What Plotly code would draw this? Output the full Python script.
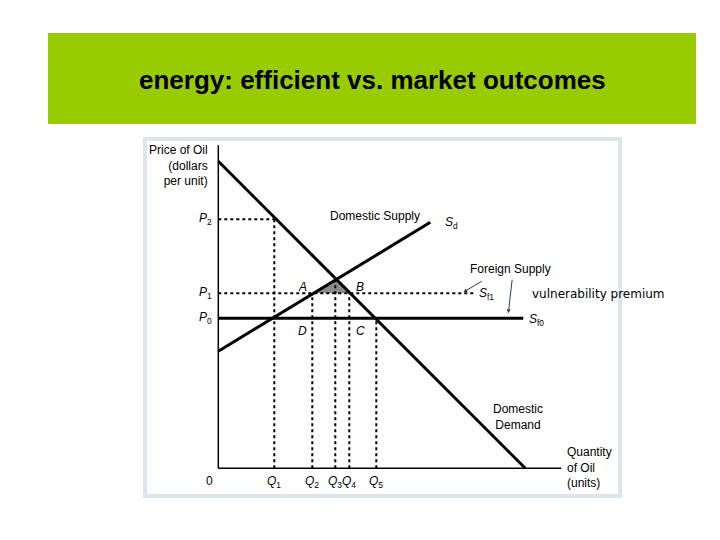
import plotly.graph_objects as go

# diagram units: origin at axes corner
quantities = {'Q1': 56, 'Q2': 94, 'Q3': 117, 'Q4': 131, 'Q5': 158}
prices = {'P0': 150, 'P1': 175, 'P2': 249}
demand_x, demand_y = [0, 307], [307, 0]
supply_x, supply_y = [0, 212], [117, 246]
eq_point = (117, 188)
axis_x_max, axis_y_max = 343, 323
sf0_end, sf1_end = 305, 255

SH = 8  # page body margin
OX, OY = 218.3 - SH, 468.3 - SH  # pixel of origin inside the figure
fig = go.Figure()
blk = dict(color='black', width=3)
dot = dict(color='black', width=2, dash='dot')

def line(xs, ys, style):
    fig.add_trace(go.Scatter(x=xs, y=ys, mode='lines', line=style, hoverinfo='skip'))

# shaded triangle
fig.add_trace(go.Scatter(x=[quantities['Q2'], quantities['Q4'], eq_point[0], quantities['Q2']],
                         y=[prices['P1'], prices['P1'], eq_point[1], prices['P1']],
                         fill='toself', fillcolor='#8c8c8c', mode='lines', line=dict(width=0)))
# dotted guides
line([0, quantities['Q1']], [prices['P2']] * 2, dot)
line([quantities['Q1']] * 2, [0, prices['P2']], dot)
line([0, sf1_end], [prices['P1']] * 2, dot)
line([quantities['Q2']] * 2, [0, prices['P1']], dot)
line([quantities['Q3']] * 2, [0, eq_point[1]], dot)
line([quantities['Q4']] * 2, [0, prices['P1']], dot)
line([quantities['Q5']] * 2, [0, prices['P0']], dot)
# axes and curves
line([0, 0], [0, axis_y_max], dict(color='black', width=1.5))
line([0, axis_x_max], [0, 0], dict(color='black', width=1.5))
line(demand_x, demand_y, blk)
line(supply_x, supply_y, blk)
line([0, sf0_end], [prices['P0']] * 2, blk)

font = dict(family='Liberation Sans, Arial', size=12, color='black')
def txt(x, y, s, **kw):
    fig.add_annotation(x=x, y=y, text=s, showarrow=False, font=font, **kw)

for k, v in prices.items():
    txt(-13, v, '<i>P</i><sub>%s</sub>' % k[1])
for k, v in quantities.items():
    txt(v, -14, '<i>Q</i><sub>%s</sub>' % k[1])
txt(-9, -13, '0')
txt(-8, 303, 'Price of Oil<br>(dollars<br>per unit)', xanchor='right', align='right')
txt(347, 1, 'Quantity<br>of Oil<br>(units)', xanchor='left', align='left')
txt(300, 51, 'Domestic<br>Demand')
txt(157, 252, 'Domestic Supply')
txt(225, 245, '<i>S</i><sub>d</sub>', xanchor='left')
txt(84, 181, '<i>A</i>')
txt(142, 181, '<i>B</i>')
txt(84, 137, '<i>D</i>')
txt(142, 137, '<i>C</i>')
txt(259, 174, '<i>S</i><sub>f1</sub>', xanchor='left')
txt(309, 148, '<i>S</i><sub>f0</sub>', xanchor='left')
txt(292, 199, 'Foreign Supply')
fig.add_annotation(x=245, y=176, ax=265, ay=188, axref='x', ayref='y', text='',
                   showarrow=True, arrowhead=2, arrowsize=0.8, arrowwidth=1)
fig.add_annotation(x=290, y=155, ax=294, ay=190, axref='x', ayref='y', text='',
                   showarrow=True, arrowhead=2, arrowsize=0.8, arrowwidth=1)
fig.add_annotation(x=312, y=174, text='vulnerability premium', showarrow=False, xanchor='left',
                   font=dict(family='DejaVu Sans', size=12, color='black'))

def px_(v):
    return (v - SH) / 720
def py_(v):
    return 1 - (v - SH) / 540

fig.update_layout(
    width=720, height=540, margin=dict(l=0, r=0, t=0, b=0), showlegend=False,
    plot_bgcolor='white', paper_bgcolor='white',
    xaxis=dict(range=[-OX, 720 - OX], visible=False, fixedrange=True),
    yaxis=dict(range=[OY - 540, OY], visible=False, fixedrange=True),
    shapes=[
        dict(type='rect', xref='paper', yref='paper', x0=px_(48), x1=px_(696), y0=py_(124), y1=py_(33),
             fillcolor='#99cc00', line=dict(width=0), layer='below'),
        dict(type='rect', xref='paper', yref='paper', x0=px_(145), x1=px_(620), y0=py_(496), y1=py_(139),
             fillcolor='white', line=dict(color='#dce6ef', width=4), layer='below'),
    ],
    annotations=list(fig.layout.annotations) + [
        dict(x=px_(372), y=py_(80), xref='paper', yref='paper', showarrow=False,
             xanchor='center', yanchor='middle',
             text='<b>energy: efficient vs. market outcomes</b>',
             font=dict(family='Liberation Sans, Arial', size=26, color='black'))
    ],
)
fig.write_html('out.html')
